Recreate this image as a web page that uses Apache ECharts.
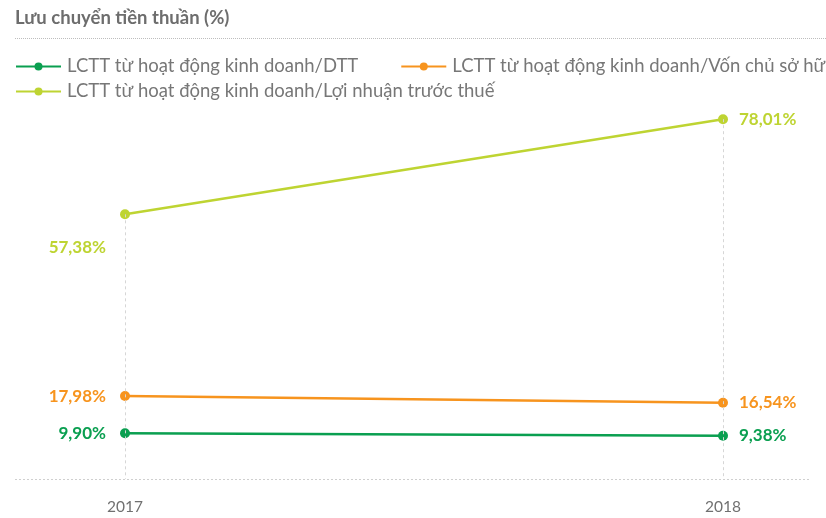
<!DOCTYPE html>
<html>
<head>
<meta charset="utf-8">
<script src="https://cdn.jsdelivr.net/npm/echarts@6/dist/echarts.min.js"></script>
<style>
  html, body { margin: 0; padding: 0; background: #fff; }
  #chart { width: 826px; height: 518px; }
</style>
</head>
<body>
<div id="chart"></div>
<script>
const years = ['2017', '2018']
const seriesNames = [
  'LCTT từ hoạt động kinh doanh/DTT',
  'LCTT từ hoạt động kinh doanh/Vốn chủ sở hữu',
  'LCTT từ hoạt động kinh doanh/Lợi nhuận trước thuế'
]
const dttData = [9.90, 9.38]
const vcshData = [17.98, 16.54]
const lnttData = [57.38, 78.01]
const colors = ['#0a9f50', '#f7941e', '#bed432']

const chart = echarts.init(document.getElementById('chart'))

const fmt = (p) => p.value.toFixed(2).replace('.', ',') + '%'

// nhãn: năm đầu bên trái, năm sau bên phải
function makeData (values, firstOffset) {
  return values.map((v, i) => ({
    value: v,
    label: i === 0
      ? { position: 'left', distance: 14, offset: firstOffset || [0, 0] }
      : { position: 'right', distance: 11 }
  }))
}

function makeSeries (name, values, color, firstOffset, withDrop) {
  const s = {
    type: 'line',
    name: name,
    symbol: 'circle',
    symbolSize: 10,
    lineStyle: { width: 2.5, color: color },
    itemStyle: { color: color },
    label: {
      show: true,
      color: color,
      fontFamily: 'Lato',
      fontWeight: 'bold',
      fontSize: 17,
      formatter: fmt
    },
    data: makeData(values, firstOffset)
  }
  if (withDrop) {
    s.markLine = {
      silent: true,
      symbol: 'none',
      label: { show: false },
      lineStyle: { type: [3, 3], color: '#d6d6d6', width: 1 },
      data: years.map((y, i) => [
        { coord: [y, values[i]] },
        { coord: [y, 0] }
      ])
    }
  }
  return s
}

const legendBase = {
  left: 15,
  padding: 0,
  itemWidth: 45,
  itemHeight: 10,
  itemGap: 42,
  width: 3000,
  textStyle: { color: '#777', fontFamily: 'Lato', fontSize: 18.5, padding: [0, 0, 0, 1] }
}

const option = {
  animation: false,
  grid: { left: 125, right: 103, top: 110, bottom: 39 },
  graphic: [
    {
      type: 'text', left: 15, top: 9,
      style: { text: 'Lưu chuyển tiền thuần (%)', fill: '#6d6d6d', font: 'bold 18.5px Lato' }
    },
    {
      type: 'line',
      shape: { x1: 15, y1: 38.5, x2: 826, y2: 38.5 },
      style: { stroke: '#bdbdbd', lineWidth: 1, lineDash: [1, 1] }
    },
    {
      type: 'line',
      shape: { x1: 15, y1: 479.5, x2: 811, y2: 479.5 },
      style: { stroke: '#cfcfcf', lineWidth: 1, lineDash: [2, 2] }
    }
  ],
  legend: [
    Object.assign({}, legendBase, { top: 57, data: [seriesNames[0], seriesNames[1]] }),
    Object.assign({}, legendBase, { top: 82, data: [seriesNames[2]] })
  ],
  xAxis: {
    type: 'category',
    boundaryGap: false,
    data: years,
    axisLine: { show: false },
    axisTick: { show: false },
    axisLabel: { color: '#707070', fontFamily: 'Lato', fontSize: 15.5, margin: 20 }
  },
  yAxis: {
    type: 'value',
    min: 0,
    max: 80,
    show: false,
    splitLine: { show: false }
  },
  series: [
    makeSeries(seriesNames[0], dttData, colors[0]),
    makeSeries(seriesNames[1], vcshData, colors[1]),
    makeSeries(seriesNames[2], lnttData, colors[2], [0, 33], true)
  ]
}

chart.setOption(option)
</script>
</body>
</html>
